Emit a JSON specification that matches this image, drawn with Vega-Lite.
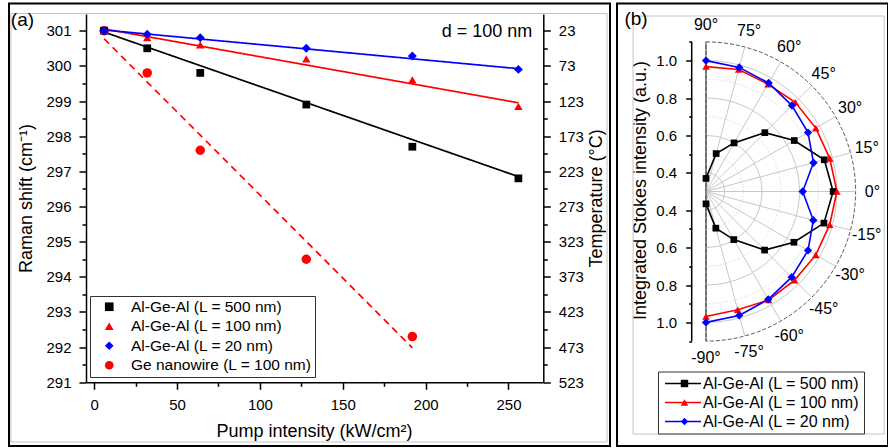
{
  "$schema": "https://vega.github.io/schema/vega-lite/v6.json",
  "background": "white",
  "padding": {"left": 8, "top": 2.5, "right": 0, "bottom": 0},
  "bounds": "flush",
  "spacing": 7,
  "config": {
    "font": "Liberation Sans",
    "view": {"stroke": "black", "strokeWidth": 2},
    "axis": {"labelColor": "black", "titleColor": "black", "tickColor": "black", "tickWidth": 1.5, "titleFontWeight": "normal", "labelFont": "Liberation Sans", "titleFont": "Liberation Sans", "grid": false},
    "legend": {"labelColor": "black", "labelFont": "Liberation Sans"},
    "text": {"color": "black", "font": "Liberation Sans"}
  },
  "resolve": {
    "scale": {"color": "independent", "shape": "independent", "strokeDash": "independent", "size": "independent"},
    "legend": {"color": "independent", "shape": "independent", "strokeDash": "independent", "size": "independent"}
  },
  "hconcat": [
    {
      "width": 601,
      "height": 442.5,
      "resolve": {
        "axis": {"x": "independent", "y": "independent"},
        "scale": {"x": "independent", "y": "independent", "color": "independent", "shape": "independent", "strokeDash": "independent"},
        "legend": {"color": "independent", "shape": "independent", "strokeDash": "independent"}
      },
      "layer": [
        {
          "data": {"values": [{}]},
          "mark": {"type": "rect", "filled": false, "stroke": "#c4c4c4", "strokeWidth": 1},
          "encoding": {
            "x": {"datum": -50.2, "type": "quantitative", "scale": {"domain": [-51.42, 311.28], "nice": false, "zero": false}, "axis": null},
            "x2": {"datum": 309.5},
            "y": {"datum": 301.49, "type": "quantitative", "scale": {"domain": [289.188, 301.774], "nice": false, "zero": false},
              "axis": {
                "orient": "right", "offset": -66.7, "domain": false,
                "values": [291, 291.5, 292, 292.5, 293, 293.5, 294, 294.5, 295, 295.5, 296, 296.5, 297, 297.5, 298, 298.5, 299, 299.5, 300, 300.5, 301],
                "tickSize": {"condition": {"test": "datum.value % 1 === 0", "value": 7}, "value": 4},
                "labelExpr": "datum.value % 1 === 0 ? format(23 + (301 - datum.value) * 50, '.0f') : ''",
                "labelFontSize": 15, "labelPadding": 8,
                "title": "Temperature (°C)", "titleFontSize": 18, "titleAngle": 270,
                "titleX": 52.7, "titleY": 194.5, "titleBaseline": "middle", "titleAlign": "center"
              }
            },
            "y2": {"datum": 289.302}
          }
        },
        {
          "data": {"values": [
            {"s": "Al-Ge-Al (L = 500 nm)", "x": 6, "y": 300.96},
            {"s": "Al-Ge-Al (L = 500 nm)", "x": 256, "y": 296.85},
            {"s": "Al-Ge-Al (L = 100 nm)", "x": 6, "y": 301.05},
            {"s": "Al-Ge-Al (L = 100 nm)", "x": 256, "y": 298.95},
            {"s": "Al-Ge-Al (L = 20 nm)", "x": 6, "y": 301.02},
            {"s": "Al-Ge-Al (L = 20 nm)", "x": 256, "y": 299.92},
            {"s": "Ge nanowire (L = 100 nm)", "x": 6, "y": 300.77},
            {"s": "Ge nanowire (L = 100 nm)", "x": 192, "y": 291.98}
          ]},
          "mark": {"type": "line", "strokeWidth": 1.7},
          "encoding": {
            "x": {"field": "x", "type": "quantitative", "scale": {"domain": [-51.42, 311.28], "nice": false, "zero": false}, "axis": null},
            "y": {"field": "y", "type": "quantitative", "scale": {"domain": [289.188, 301.774], "nice": false, "zero": false}, "axis": null},
            "color": {"field": "s", "type": "nominal", "scale": {"domain": ["Al-Ge-Al (L = 500 nm)", "Al-Ge-Al (L = 100 nm)", "Al-Ge-Al (L = 20 nm)", "Ge nanowire (L = 100 nm)"], "range": ["#000000", "#ff0000", "#0000ff", "#ff0000"]}, "legend": null},
            "strokeDash": {"field": "s", "type": "nominal", "scale": {"domain": ["Al-Ge-Al (L = 500 nm)", "Al-Ge-Al (L = 100 nm)", "Al-Ge-Al (L = 20 nm)", "Ge nanowire (L = 100 nm)"], "range": [[1, 0], [1, 0], [1, 0], [7, 5]]}, "legend": null}
          }
        },
        {
          "data": {"values": [
            {"s": "Ge nanowire (L = 100 nm)", "x": 6, "y": 301.0},
            {"s": "Ge nanowire (L = 100 nm)", "x": 32, "y": 299.8},
            {"s": "Ge nanowire (L = 100 nm)", "x": 64, "y": 297.6},
            {"s": "Ge nanowire (L = 100 nm)", "x": 128, "y": 294.5},
            {"s": "Ge nanowire (L = 100 nm)", "x": 192, "y": 292.3},
            {"s": "Al-Ge-Al (L = 500 nm)", "x": 6, "y": 301.0},
            {"s": "Al-Ge-Al (L = 500 nm)", "x": 32, "y": 300.5},
            {"s": "Al-Ge-Al (L = 500 nm)", "x": 64, "y": 299.8},
            {"s": "Al-Ge-Al (L = 500 nm)", "x": 128, "y": 298.9},
            {"s": "Al-Ge-Al (L = 500 nm)", "x": 192, "y": 297.7},
            {"s": "Al-Ge-Al (L = 500 nm)", "x": 256, "y": 296.8},
            {"s": "Al-Ge-Al (L = 100 nm)", "x": 6, "y": 301.0},
            {"s": "Al-Ge-Al (L = 100 nm)", "x": 32, "y": 300.8},
            {"s": "Al-Ge-Al (L = 100 nm)", "x": 64, "y": 300.6},
            {"s": "Al-Ge-Al (L = 100 nm)", "x": 128, "y": 300.2},
            {"s": "Al-Ge-Al (L = 100 nm)", "x": 192, "y": 299.6},
            {"s": "Al-Ge-Al (L = 100 nm)", "x": 256, "y": 298.85},
            {"s": "Al-Ge-Al (L = 20 nm)", "x": 6, "y": 301.0},
            {"s": "Al-Ge-Al (L = 20 nm)", "x": 32, "y": 300.9},
            {"s": "Al-Ge-Al (L = 20 nm)", "x": 64, "y": 300.8},
            {"s": "Al-Ge-Al (L = 20 nm)", "x": 128, "y": 300.5},
            {"s": "Al-Ge-Al (L = 20 nm)", "x": 192, "y": 300.28},
            {"s": "Al-Ge-Al (L = 20 nm)", "x": 256, "y": 299.9}
          ]},
          "mark": {"type": "point", "filled": true, "opacity": 1},
          "encoding": {
            "x": {"field": "x", "type": "quantitative", "scale": {"domain": [-51.42, 311.28], "nice": false, "zero": false},
              "axis": {
                "orient": "bottom", "offset": -63.7, "domain": false,
                "values": [0, 25, 50, 75, 100, 125, 150, 175, 200, 225, 250],
                "tickSize": {"condition": {"test": "datum.value % 50 === 0", "value": 7}, "value": 4},
                "labelExpr": "datum.value % 50 === 0 ? format(datum.value, '.0f') : ''",
                "labelFontSize": 15, "labelPadding": 8,
                "title": "Pump intensity (kW/cm²)", "titleFontSize": 18,
                "titleX": 305, "titleY": 48.7, "titleBaseline": "middle", "titleAlign": "center"
              }
            },
            "y": {"field": "y", "type": "quantitative", "scale": {"domain": [289.188, 301.774], "nice": false, "zero": false},
              "axis": {
                "orient": "left", "offset": -77, "domain": false,
                "values": [291, 291.5, 292, 292.5, 293, 293.5, 294, 294.5, 295, 295.5, 296, 296.5, 297, 297.5, 298, 298.5, 299, 299.5, 300, 300.5, 301],
                "tickSize": {"condition": {"test": "datum.value % 1 === 0", "value": 7}, "value": 4},
                "labelExpr": "datum.value % 1 === 0 ? format(datum.value, '.0f') : ''",
                "labelFontSize": 15, "labelPadding": 8,
                "title": "Raman shift (cm⁻¹)", "titleFontSize": 18, "titleAngle": 270,
                "titleX": -60, "titleY": 194.5, "titleBaseline": "middle", "titleAlign": "center"
              }
            },
            "size": {"field": "s", "type": "ordinal", "scale": {"domain": ["Al-Ge-Al (L = 500 nm)", "Al-Ge-Al (L = 100 nm)", "Al-Ge-Al (L = 20 nm)", "Ge nanowire (L = 100 nm)"], "range": [60, 90, 125, 85]}, "legend": null},
            "color": {"field": "s", "type": "nominal", "scale": {"domain": ["Al-Ge-Al (L = 500 nm)", "Al-Ge-Al (L = 100 nm)", "Al-Ge-Al (L = 20 nm)", "Ge nanowire (L = 100 nm)"], "range": ["#000000", "#ff0000", "#0000ff", "#ff0000"]},
              "legend": {"orient": "none", "legendX": 81, "legendY": 292.5, "title": null, "strokeColor": "#333333", "fillColor": "white", "padding": 3, "rowPadding": 2.5, "symbolOffset": 8.5, "labelOffset": 14, "labelFontSize": 15.5, "labelLimit": 400, "symbolSize": 75, "labelExpr": "datum.label + '          '"}},
            "shape": {"field": "s", "type": "nominal", "scale": {"domain": ["Al-Ge-Al (L = 500 nm)", "Al-Ge-Al (L = 100 nm)", "Al-Ge-Al (L = 20 nm)", "Ge nanowire (L = 100 nm)"], "range": ["square", "triangle-up", "diamond", "circle"]},
              "legend": {"orient": "none", "legendX": 81, "legendY": 292.5, "title": null, "strokeColor": "#333333", "fillColor": "white", "padding": 3, "rowPadding": 2.5, "symbolOffset": 8.5, "labelOffset": 14, "labelFontSize": 15.5, "labelLimit": 400, "symbolSize": 75, "labelExpr": "datum.label + '          '"}}
          }
        },
        {
          "data": {"values": [{}]},
          "mark": {"type": "text", "text": "d = 100 nm", "fontSize": 18, "align": "center", "baseline": "middle"},
          "encoding": {
            "x": {"datum": 237.1, "type": "quantitative", "scale": {"domain": [-51.42, 311.28], "nice": false, "zero": false}, "axis": null},
            "y": {"datum": 300.963, "type": "quantitative", "scale": {"domain": [289.188, 301.774], "nice": false, "zero": false}, "axis": null}
          }
        },
        {
          "data": {"values": [{}]},
          "mark": {"type": "text", "text": "(a)", "fontSize": 19, "align": "center", "baseline": "middle"},
          "encoding": {
            "x": {"datum": -43.3, "type": "quantitative", "scale": {"domain": [-51.42, 311.28], "nice": false, "zero": false}, "axis": null},
            "y": {"datum": 301.304, "type": "quantitative", "scale": {"domain": [289.188, 301.774], "nice": false, "zero": false}, "axis": null}
          }
        },
        {
          "data": {"values": [{}]},
          "mark": {"type": "text", "text": ""},
          "encoding": {
            "x": {"datum": -5, "type": "quantitative", "scale": {"domain": [-5, 271], "range": [77, 534.3], "nice": false, "zero": false},
              "axis": {"orient": "bottom", "offset": -63.7, "domain": true, "domainColor": "black", "domainWidth": 1.5, "ticks": false, "labels": false, "title": null, "grid": false}
            },
            "y": {"datum": 291, "type": "quantitative", "scale": {"domain": [291, 301.49], "range": [378.8, 10.5], "nice": false, "zero": false},
              "axis": {"orient": "left", "offset": -77, "domain": true, "domainColor": "black", "domainWidth": 1.5, "ticks": false, "labels": false, "title": null, "grid": false}
            }
          }
        },
        {
          "data": {"values": [{}]},
          "mark": {"type": "text", "text": ""},
          "encoding": {
            "x": {"datum": 271, "type": "quantitative", "scale": {"domain": [-5, 271], "range": [77, 534.3], "nice": false, "zero": false}, "axis": null},
            "y": {"datum": 291, "type": "quantitative", "scale": {"domain": [291, 301.49], "range": [378.8, 10.5], "nice": false, "zero": false},
              "axis": {"orient": "right", "offset": -66.7, "domain": true, "domainColor": "black", "domainWidth": 1.5, "ticks": false, "labels": false, "title": null, "grid": false}
            }
          }
        }
      ]
    },
    {
      "width": 271,
      "height": 442.5,
      "resolve": {
        "axis": {"x": "independent", "y": "independent"},
        "scale": {"color": "independent", "shape": "independent"},
        "legend": {"color": "independent", "shape": "independent"}
      },
      "layer": [
        {
          "data": {"values": [{}]},
          "mark": {"type": "rect", "filled": false, "stroke": "#c4c4c4", "strokeWidth": 1},
          "encoding": {
            "x": {"datum": -0.39, "type": "quantitative", "scale": {"domain": [-0.47594, 0.97326], "nice": false, "zero": false}, "axis": null},
            "x2": {"datum": 0.953},
            "y": {"datum": 0.9385, "type": "quantitative", "scale": {"domain": [-1.36096, 1.00535], "nice": false, "zero": false}, "axis": null},
            "y2": {"datum": -1.2968}
          }
        },
        {
          "data": {"values": [{"r": 0.4, "t0": 0, "t1": 180}, {"r": 0.6, "t0": 0, "t1": 180}, {"r": 0.8, "t0": 0, "t1": 180}, {"r": 1.0, "t0": 0, "t1": 180}]},
          "mark": {"type": "arc", "filled": false, "stroke": "#c8c8c8", "strokeWidth": 1},
          "encoding": {
            "x": {"datum": 0, "type": "quantitative", "scale": {"domain": [-0.47594, 0.97326], "nice": false, "zero": false}, "axis": null},
            "y": {"datum": 0, "type": "quantitative", "scale": {"domain": [-1.36096, 1.00535], "nice": false, "zero": false}, "axis": null},
            "theta": {"field": "t0", "type": "quantitative", "scale": {"domain": [0, 360], "range": [0, 6.283185307]}},
            "theta2": {"field": "t1"},
            "radius": {"field": "r", "type": "quantitative", "scale": {"type": "linear", "domain": [0.3, 1.1], "range": [0, 149.6], "zero": false}}
          }
        },
        {
          "data": {"values": [{"r": 0.5, "t0": 0, "t1": 180}, {"r": 0.7, "t0": 0, "t1": 180}, {"r": 0.9, "t0": 0, "t1": 180}]},
          "mark": {"type": "arc", "filled": false, "stroke": "#cccccc", "strokeWidth": 1, "strokeDash": [1, 2]},
          "encoding": {
            "x": {"datum": 0, "type": "quantitative", "scale": {"domain": [-0.47594, 0.97326], "nice": false, "zero": false}, "axis": null},
            "y": {"datum": 0, "type": "quantitative", "scale": {"domain": [-1.36096, 1.00535], "nice": false, "zero": false}, "axis": null},
            "theta": {"field": "t0", "type": "quantitative", "scale": {"domain": [0, 360], "range": [0, 6.283185307]}},
            "theta2": {"field": "t1"},
            "radius": {"field": "r", "type": "quantitative", "scale": {"type": "linear", "domain": [0.3, 1.1], "range": [0, 149.6], "zero": false}}
          }
        },
        {
          "data": {"values": [{"r": 1.1, "t0": 0, "t1": 180}]},
          "mark": {"type": "arc", "filled": false, "stroke": "#555555", "strokeWidth": 1, "strokeDash": [4, 2]},
          "encoding": {
            "x": {"datum": 0, "type": "quantitative", "scale": {"domain": [-0.47594, 0.97326], "nice": false, "zero": false}, "axis": null},
            "y": {"datum": 0, "type": "quantitative", "scale": {"domain": [-1.36096, 1.00535], "nice": false, "zero": false}, "axis": null},
            "theta": {"field": "t0", "type": "quantitative", "scale": {"domain": [0, 360], "range": [0, 6.283185307]}},
            "theta2": {"field": "t1"},
            "radius": {"field": "r", "type": "quantitative", "scale": {"type": "linear", "domain": [0.3, 1.1], "range": [0, 149.6], "zero": false}}
          }
        },
        {
          "data": {"values": [{"a": 75}, {"a": 60}, {"a": 45}, {"a": 30}, {"a": 15}, {"a": 0}, {"a": -15}, {"a": -30}, {"a": -45}, {"a": -60}, {"a": -75}]},
          "transform": [
            {"calculate": "0", "as": "cx"},
            {"calculate": "0.8 * cos(datum.a * PI / 180)", "as": "ex"},
            {"calculate": "0.8 * sin(datum.a * PI / 180)", "as": "ey"}
          ],
          "mark": {"type": "rule", "color": "#c8c8c8", "strokeWidth": 1},
          "encoding": {
            "x": {"field": "cx", "type": "quantitative", "scale": {"domain": [-0.47594, 0.97326], "nice": false, "zero": false}, "axis": null},
            "y": {"field": "cx", "type": "quantitative", "scale": {"domain": [-1.36096, 1.00535], "nice": false, "zero": false}, "axis": null},
            "x2": {"field": "ex"},
            "y2": {"field": "ey"}
          }
        },
        {
          "data": {"values": [{}]},
          "mark": {"type": "rule", "color": "#444444", "strokeWidth": 1},
          "encoding": {
            "x": {"datum": 0, "type": "quantitative", "scale": {"domain": [-0.47594, 0.97326], "nice": false, "zero": false}, "axis": null},
            "y": {"datum": -0.8, "type": "quantitative", "scale": {"domain": [-1.36096, 1.00535], "nice": false, "zero": false}, "axis": null},
            "y2": {"datum": 0.8}
          }
        },
        {
          "data": {"values": [{}]},
          "mark": {"type": "rule", "color": "black", "strokeWidth": 1.5},
          "encoding": {
            "x": {"datum": -0.0765, "type": "quantitative", "scale": {"domain": [-0.47594, 0.97326], "nice": false, "zero": false}, "axis": null},
            "y": {"datum": -0.8, "type": "quantitative", "scale": {"domain": [-1.36096, 1.00535], "nice": false, "zero": false}, "axis": null},
            "y2": {"datum": 0.8}
          }
        },
        {
          "data": {"name": "polar"},
          "transform": [
            {"calculate": "(datum.I - 0.3) * cos(datum.ang * PI / 180)", "as": "px"},
            {"calculate": "(datum.I - 0.3) * sin(datum.ang * PI / 180)", "as": "py"}
          ],
          "mark": {"type": "line", "strokeWidth": 1.6},
          "encoding": {
            "x": {"field": "px", "type": "quantitative", "scale": {"domain": [-0.47594, 0.97326], "nice": false, "zero": false}, "axis": null},
            "y": {"field": "py", "type": "quantitative", "scale": {"domain": [-1.36096, 1.00535], "nice": false, "zero": false}, "axis": null},
            "order": {"field": "ang", "type": "quantitative"},
            "color": {"field": "s", "type": "nominal", "scale": {"domain": ["Al-Ge-Al (L = 500 nm)", "Al-Ge-Al (L = 100 nm)", "Al-Ge-Al (L = 20 nm)"], "range": ["#000000", "#ff0000", "#0000ff"]},
              "legend": {"orient": "none", "legendX": 41, "legendY": 368, "title": null, "strokeColor": "#333333", "fillColor": "white", "padding": 4, "rowPadding": 3, "symbolType": "M-3.6,0H3.6", "symbolSize": 100, "symbolStrokeWidth": 1.5, "symbolOffset": 13, "labelOffset": 12, "labelFontSize": 16, "labelLimit": 400}}
          }
        },
        {
          "data": {"name": "polar"},
          "transform": [
            {"calculate": "(datum.I - 0.3) * cos(datum.ang * PI / 180)", "as": "px"},
            {"calculate": "(datum.I - 0.3) * sin(datum.ang * PI / 180)", "as": "py"}
          ],
          "mark": {"type": "point", "filled": true, "opacity": 1},
          "encoding": {
            "x": {"field": "px", "type": "quantitative", "scale": {"domain": [-0.47594, 0.97326], "nice": false, "zero": false}, "axis": null},
            "y": {"field": "py", "type": "quantitative", "scale": {"domain": [-1.36096, 1.00535], "nice": false, "zero": false},
              "axis": {
                "orient": "left", "offset": -74.7, "domain": false,
                "values": [-0.8, -0.7, -0.6, -0.5, -0.4, -0.3, -0.2, -0.1, 0.1, 0.2, 0.3, 0.4, 0.5, 0.6, 0.7, 0.8],
                "tickSize": {"condition": {"test": "abs(round(datum.value * 10)) % 2 === 1", "value": 6}, "value": 3},
                "labelExpr": "abs(round(datum.value * 10)) % 2 === 1 ? format(abs(datum.value) + 0.3, '.1f') : ''",
                "labelFontSize": 15, "labelPadding": 9,
                "title": "Integrated Stokes intensity (a.u.)", "titleFontSize": 18, "titleAngle": 270,
                "titleX": -51.7, "titleY": 186.5, "titleBaseline": "middle", "titleAlign": "center"
              }
            },
            "size": {"field": "s", "type": "ordinal", "scale": {"domain": ["Al-Ge-Al (L = 500 nm)", "Al-Ge-Al (L = 100 nm)", "Al-Ge-Al (L = 20 nm)"], "range": [45, 70, 100]}, "legend": null},
            "color": {"field": "s", "type": "nominal", "scale": {"domain": ["Al-Ge-Al (L = 500 nm)", "Al-Ge-Al (L = 100 nm)", "Al-Ge-Al (L = 20 nm)"], "range": ["#000000", "#ff0000", "#0000ff"]},
              "legend": {"orient": "none", "legendX": 41, "legendY": 368, "title": null, "padding": 4, "rowPadding": 3, "symbolSize": 55, "symbolOffset": 14.5, "labelOffset": 12, "labelFontSize": 16, "labelLimit": 400, "labelOpacity": 0}},
            "shape": {"field": "s", "type": "nominal", "scale": {"domain": ["Al-Ge-Al (L = 500 nm)", "Al-Ge-Al (L = 100 nm)", "Al-Ge-Al (L = 20 nm)"], "range": ["square", "triangle-up", "diamond"]},
              "legend": {"orient": "none", "legendX": 41, "legendY": 368, "title": null, "padding": 4, "rowPadding": 3, "symbolSize": 55, "symbolOffset": 14.5, "labelOffset": 12, "labelFontSize": 16, "labelLimit": 400, "labelOpacity": 0}}
          }
        },
        {
          "data": {"values": [
            {"a": 90, "t": "90°"}, {"a": 75, "t": "75°"}, {"a": 60, "t": "60°"}, {"a": 45, "t": "45°"}, {"a": 30, "t": "30°"}, {"a": 15, "t": "15°"}, {"a": 0, "t": "0°"},
            {"a": -15, "t": "-15°"}, {"a": -30, "t": "-30°"}, {"a": -45, "t": "-45°"}, {"a": -60, "t": "-60°"}, {"a": -75, "t": "-75°"}, {"a": -90, "t": "-90°"}
          ]},
          "transform": [
            {"calculate": "0.89 * cos(datum.a * PI / 180)", "as": "lx"},
            {"calculate": "0.89 * sin(datum.a * PI / 180)", "as": "ly"}
          ],
          "mark": {"type": "text", "fontSize": 16, "align": "center", "baseline": "middle"},
          "encoding": {
            "x": {"field": "lx", "type": "quantitative", "scale": {"domain": [-0.47594, 0.97326], "nice": false, "zero": false}, "axis": null},
            "y": {"field": "ly", "type": "quantitative", "scale": {"domain": [-1.36096, 1.00535], "nice": false, "zero": false}, "axis": null},
            "text": {"field": "t"}
          }
        },
        {
          "data": {"values": [{}]},
          "mark": {"type": "text", "text": "(b)", "fontSize": 19, "align": "center", "baseline": "middle"},
          "encoding": {
            "x": {"datum": -0.374, "type": "quantitative", "scale": {"domain": [-0.47594, 0.97326], "nice": false, "zero": false}, "axis": null},
            "y": {"datum": 0.9225, "type": "quantitative", "scale": {"domain": [-1.36096, 1.00535], "nice": false, "zero": false}, "axis": null}
          }
        }
      ]
    }
  ],
  "datasets": {
    "polar": [
      {"s": "Al-Ge-Al (L = 500 nm)", "ang": 90, "I": 0.37},
      {"s": "Al-Ge-Al (L = 500 nm)", "ang": 75, "I": 0.51},
      {"s": "Al-Ge-Al (L = 500 nm)", "ang": 60, "I": 0.60},
      {"s": "Al-Ge-Al (L = 500 nm)", "ang": 45, "I": 0.745},
      {"s": "Al-Ge-Al (L = 500 nm)", "ang": 30, "I": 0.845},
      {"s": "Al-Ge-Al (L = 500 nm)", "ang": 15, "I": 0.955},
      {"s": "Al-Ge-Al (L = 500 nm)", "ang": 0, "I": 0.98},
      {"s": "Al-Ge-Al (L = 500 nm)", "ang": -15, "I": 0.953},
      {"s": "Al-Ge-Al (L = 500 nm)", "ang": -30, "I": 0.843},
      {"s": "Al-Ge-Al (L = 500 nm)", "ang": -45, "I": 0.743},
      {"s": "Al-Ge-Al (L = 500 nm)", "ang": -60, "I": 0.597},
      {"s": "Al-Ge-Al (L = 500 nm)", "ang": -75, "I": 0.503},
      {"s": "Al-Ge-Al (L = 500 nm)", "ang": -90, "I": 0.366},
      {"s": "Al-Ge-Al (L = 100 nm)", "ang": 90, "I": 0.968},
      {"s": "Al-Ge-Al (L = 100 nm)", "ang": 75, "I": 0.975},
      {"s": "Al-Ge-Al (L = 100 nm)", "ang": 60, "I": 0.963},
      {"s": "Al-Ge-Al (L = 100 nm)", "ang": 45, "I": 0.975},
      {"s": "Al-Ge-Al (L = 100 nm)", "ang": 30, "I": 0.978},
      {"s": "Al-Ge-Al (L = 100 nm)", "ang": 15, "I": 0.985},
      {"s": "Al-Ge-Al (L = 100 nm)", "ang": 0, "I": 1.0},
      {"s": "Al-Ge-Al (L = 100 nm)", "ang": -15, "I": 0.985},
      {"s": "Al-Ge-Al (L = 100 nm)", "ang": -30, "I": 0.978},
      {"s": "Al-Ge-Al (L = 100 nm)", "ang": -45, "I": 0.97},
      {"s": "Al-Ge-Al (L = 100 nm)", "ang": -60, "I": 0.97},
      {"s": "Al-Ge-Al (L = 100 nm)", "ang": -75, "I": 0.955},
      {"s": "Al-Ge-Al (L = 100 nm)", "ang": -90, "I": 0.968},
      {"s": "Al-Ge-Al (L = 20 nm)", "ang": 90, "I": 1.0},
      {"s": "Al-Ge-Al (L = 20 nm)", "ang": 75, "I": 0.987},
      {"s": "Al-Ge-Al (L = 20 nm)", "ang": 60, "I": 0.97},
      {"s": "Al-Ge-Al (L = 20 nm)", "ang": 45, "I": 0.95},
      {"s": "Al-Ge-Al (L = 20 nm)", "ang": 30, "I": 0.93},
      {"s": "Al-Ge-Al (L = 20 nm)", "ang": 15, "I": 0.895},
      {"s": "Al-Ge-Al (L = 20 nm)", "ang": 0, "I": 0.817},
      {"s": "Al-Ge-Al (L = 20 nm)", "ang": -15, "I": 0.894},
      {"s": "Al-Ge-Al (L = 20 nm)", "ang": -30, "I": 0.93},
      {"s": "Al-Ge-Al (L = 20 nm)", "ang": -45, "I": 0.948},
      {"s": "Al-Ge-Al (L = 20 nm)", "ang": -60, "I": 0.966},
      {"s": "Al-Ge-Al (L = 20 nm)", "ang": -75, "I": 0.986},
      {"s": "Al-Ge-Al (L = 20 nm)", "ang": -90, "I": 1.0}
    ]
  }
}
